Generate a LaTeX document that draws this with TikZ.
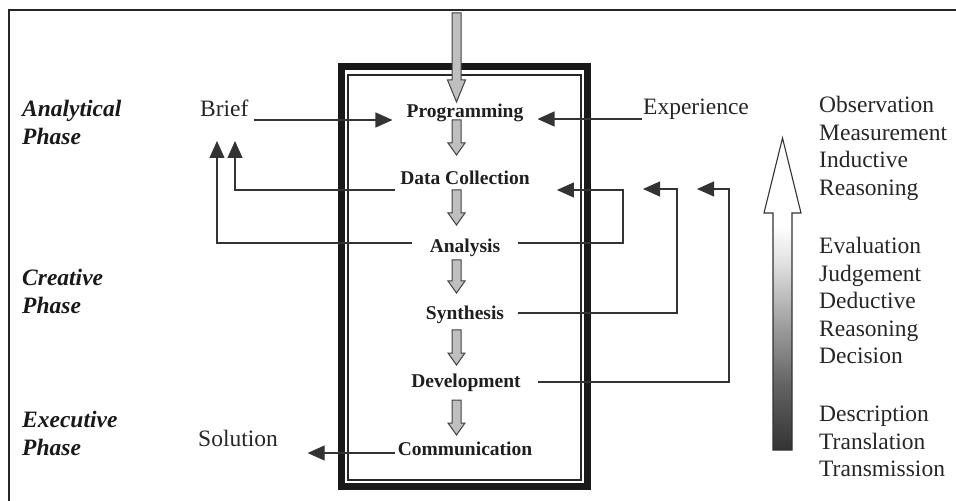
\documentclass[tikz,border=0pt]{standalone}
\usepackage{fontspec}
\setmainfont{Liberation Serif}
\usetikzlibrary{arrows.meta}
\pgfdeclareverticalshading{gradarrow}{100bp}{color(0bp)=(black!80); color(25bp)=(black!80); color(35bp)=(black!62); color(45bp)=(black!38); color(55bp)=(black!12); color(61bp)=(white); color(100bp)=(white)}
\newcommand\mygarrow[3]{%
  \filldraw[garrow] (#1-4.5,#2) -- (#1+4.5,#2) -- (#1+4.5,#3-12) -- (#1+8.5,#3-12) -- (#1,#3) -- (#1-8.5,#3-12) -- (#1-4.5,#3-12) -- cycle;}
\begin{document}
\begin{tikzpicture}[x=1bp,y=-1bp,
  conn/.style={draw=black!80, line width=1.1bp},
  tip/.style={-{Triangle[length=17bp,width=15bp]}},
  stage/.style={font=\fontsize{19.5bp}{22bp}\selectfont\bfseries, anchor=base, inner sep=0pt, text=black!88},
  plain/.style={font=\fontsize{23.5bp}{27bp}\selectfont, anchor=base west, inner sep=0pt, text=black!85},
  phase/.style={font=\fontsize{23.5bp}{28bp}\selectfont\bfseries\itshape, anchor=base west, inner sep=0pt, text=black!90},
  garrow/.style={draw=black!75, fill=black!25, line width=1bp, line join=miter}
]
\useasboundingbox (0,0) rectangle (956,501);
% outer frame
\draw[line width=2bp, black!85] (9,501) -- (9,10) -- (956,10);
% central box
\draw[line width=6.5bp, black!90] (341.5,66.5) rectangle (587.5,486.5);
\draw[line width=1.2bp, black!85] (348,75) rectangle (581,480);

% phase labels
\node[phase] (ph1a) at (22,117) {Analytical};
\node[phase] (ph1b) at (22,145) {Phase};
\node[phase] (ph2a) at (22,286) {Creative};
\node[phase] (ph2b) at (22,314) {Phase};
\node[phase] (ph3a) at (22,427) {Executive};
\node[phase] (ph3b) at (22,455) {Phase};

% side texts
\node[plain] (brief) at (200,117) {Brief};
\node[plain] (exp) at (643,115) {Experience};
\node[plain] (sol) at (198,446) {Solution};

% stages
\node[stage] (prog) at (465,118) {Programming};
\node[stage] (dc)   at (465,185) {Data Collection};
\node[stage] (an)   at (465,253) {Analysis};
\node[stage] (syn)  at (465,320) {Synthesis};
\node[stage] (dev)  at (466,387) {Development};
\node[stage] (com)  at (465,455) {Communication};

% gray flow arrows
\filldraw[garrow] (452,13) -- (461,13) -- (461,80) -- (465.5,80) -- (456.5,102) -- (447.5,80) -- (452,80) -- cycle;
\mygarrow{456.5}{120}{155}
\mygarrow{456.5}{190}{225}
\mygarrow{456.5}{260}{293}
\mygarrow{456.5}{330}{365}
\mygarrow{456.5}{400}{435}

% connectors
\coordinate (upA) at (217,141);
\coordinate (upB) at (235,141);
\coordinate (kA) at (623,190);
\coordinate (kS) at (677,189);
\coordinate (tS) at (643,189);
\coordinate (kD) at (729,189);
\coordinate (tD) at (697,189);

\draw[conn,tip] ([shift={(5,3)}]brief.base east) -- ([shift={(-14,2)}]prog.base west);
\draw[conn,tip] ([shift={(-1,4)}]exp.base west) -- ([shift={(14,1)}]prog.base east);
\draw[conn,tip] ([shift={(-5,5)}]dc.base west) -| (upB);
\draw[conn,tip] ([shift={(-18,-10)}]an.base west) -| (upA);
\draw[conn,tip] ([shift={(18,-10)}]an.base east) -| (kA) -- ([shift={(27,5)}]dc.base east);
\draw[conn,tip] ([shift={(14,-7)}]syn.base east) -| (kS) -- (tS);
\draw[conn,tip] ([shift={(17,-5)}]dev.base east) -| (kD) -- (tD);
\draw[conn,tip] ([shift={(-3,-2)}]com.base west) -- ++(-87,0);

% gradient arrow
\shadedraw[shading=gradarrow, draw=black!80, line width=1.1bp, line join=miter]
  (773,450) -- (773,213) -- (764,213) -- (782.5,138) -- (801,213) -- (792,213) -- (792,450) -- cycle;

% right texts
\node[plain] (obs)    at (819,113) {Observation};
\node[plain] (meas)   at (819,141) {Measurement};
\node[plain] (ind)    at (819,168) {Inductive};
\node[plain] (reas1)  at (819,196) {Reasoning};
\node[plain] (eval)   at (819,254) {Evaluation};
\node[plain] (judg)   at (819,282) {Judgement};
\node[plain] (ded)    at (819,309) {Deductive};
\node[plain] (reas2)  at (819,337) {Reasoning};
\node[plain] (dec)    at (819,364) {Decision};
\node[plain] (desc)   at (819,421) {Description};
\node[plain] (transl) at (819,449) {Translation};
\node[plain] (transm) at (819,476) {Transmission};
\end{tikzpicture}
\end{document}
